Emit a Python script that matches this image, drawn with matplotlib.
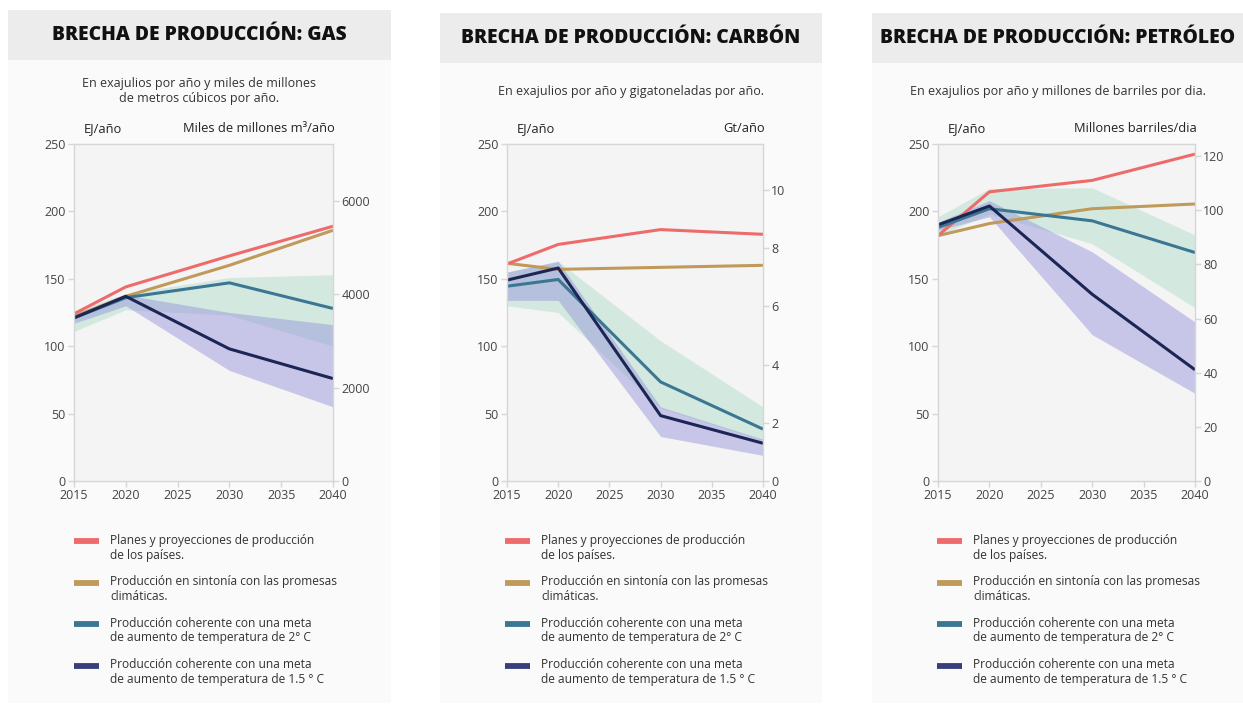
import matplotlib
matplotlib.use("Agg")
import matplotlib.pyplot as plt
from matplotlib.patches import Rectangle
from matplotlib.lines import Line2D

plt.rcParams['font.family'] = ['Open Sans', 'DejaVu Sans']

# ---- data (EJ per year) ----
years = [2015, 2020, 2030, 2040]

gas_planes = [124, 144, 167, 189]
gas_promesas = [122, 137, 160, 186]
gas_2c = [121, 136, 147, 128]
gas_15c = [121, 137, 98, 76]
gas_2c_low = [111, 127, 123, 100]
gas_2c_high = [126, 139, 151, 153]
gas_15c_low = [117, 130, 82, 55]
gas_15c_high = [124, 138, 125, 116]

coal_planes = [161, 175.5, 186.5, 183]
coal_promesas = [161.5, 157, 158.5, 160]
coal_2c = [144.5, 149.5, 73.5, 38.5]
coal_15c = [149, 158, 48.5, 28]
coal_2c_low = [130, 125, 54, 30]
coal_2c_high = [155, 163, 104, 55]
coal_15c_low = [134, 134, 33, 19]
coal_15c_high = [155, 163, 55, 31]

oil_planes = [182, 214.5, 223, 242.5]
oil_promesas = [182, 191, 202, 205.5]
oil_2c = [188, 202, 193, 169.5]
oil_15c = [190, 204, 138.5, 82.5]
oil_2c_low = [182, 198, 176, 128.5]
oil_2c_high = [196, 217, 217.5, 182.5]
oil_15c_low = [186, 196, 108.5, 65]
oil_15c_high = [192, 208, 170, 118]

titles = ["BRECHA DE PRODUCCIÓN: GAS", "BRECHA DE PRODUCCIÓN: CARBÓN",
          "BRECHA DE PRODUCCIÓN: PETRÓLEO"]
subtitles = ["En exajulios por año y miles de millones\nde metros cúbicos por año.",
             "En exajulios por año y gigatoneladas por año.",
             "En exajulios por año y millones de barriles por dia."]
right_units = ["Miles de millones m³/año", "Gt/año", "Millones barriles/dia"]
right_ticks = [[0, 2000, 4000, 6000], [0, 2, 4, 6, 8, 10], [0, 20, 40, 60, 80, 100, 120]]
# EJ equivalent of one right-axis unit
right_factor = [1 / 28.85, 21.6, 2.008]
left_ticks = [0, 50, 100, 150, 200, 250]
x_ticks = [2015, 2020, 2025, 2030, 2035, 2040]

legend_labels = ["Planes y proyecciones de producción\nde los países.",
                 "Producción en sintonía con las promesas\nclimáticas.",
                 "Producción coherente con una meta\nde aumento de temperatura de 2° C",
                 "Producción coherente con una meta\nde aumento de temperatura de 1.5 ° C"]

c_planes = "#ee6b6b"
c_prom = "#bf9a5a"
c_2c = "#3b7793"
c_15c = "#1c2655"
c_15c_leg = "#363f7c"
c_green = "#8fd3b6"
c_purple = "#8c88d8"

W, H = 1243, 706
fig = plt.figure(figsize=(W / 100, H / 100), dpi=100)
fig.patch.set_facecolor("white")


def fx(x):
    return x / W


def fy(y):
    return 1 - y / H


panels = [
    dict(band=(8, 391, 10, 60), ax=(74, 333), leg_x=74,
         data=(gas_planes, gas_promesas, gas_2c, gas_15c,
               gas_2c_low, gas_2c_high, gas_15c_low, gas_15c_high)),
    dict(band=(440, 822, 13, 63), ax=(507, 763), leg_x=505,
         data=(coal_planes, coal_promesas, coal_2c, coal_15c,
               coal_2c_low, coal_2c_high, coal_15c_low, coal_15c_high)),
    dict(band=(872, 1243, 13, 63), ax=(938, 1195), leg_x=937,
         data=(oil_planes, oil_promesas, oil_2c, oil_15c,
               oil_2c_low, oil_2c_high, oil_15c_low, oil_15c_high)),
]

ax_top, ax_bot = 144, 481
tick_col = "#444444"
spine_col = "#d6d6d6"

for i, p in enumerate(panels):
    x0, x1, y0, y1 = p["band"]
    # panel background and title band
    fig.add_artist(Rectangle((fx(x0), fy(703)), fx(x1 - x0), (703 - y1) / H,
                             transform=fig.transFigure, facecolor="#fafafa",
                             edgecolor="none", zorder=0))
    fig.add_artist(Rectangle((fx(x0), fy(y1)), fx(x1 - x0), (y1 - y0) / H,
                             transform=fig.transFigure, facecolor="#ececec",
                             edgecolor="none", zorder=0))
    fig.text(fx((x0 + x1) / 2), fy((y0 + y1) / 2), titles[i], ha="center",
             va="center", fontsize=13.9, fontweight="heavy", color="#111111")

    axl, axr = p["ax"]
    ax = fig.add_axes([fx(axl), fy(ax_bot), fx(axr - axl), (ax_bot - ax_top) / H])
    ax.set_facecolor("#f4f4f4")
    ax.set_zorder(2)

    planes, prom, l2, l15, g_lo, g_hi, p_lo, p_hi = p["data"]
    ax.fill_between(years, g_lo, g_hi, color=c_green, alpha=0.32, lw=0)
    ax.fill_between(years, p_lo, p_hi, color=c_purple, alpha=0.42, lw=0)
    ax.plot(years, prom, color=c_prom, lw=2.2, solid_capstyle="butt")
    ax.plot(years, planes, color=c_planes, lw=2.2, solid_capstyle="butt")
    ax.plot(years, l2, color=c_2c, lw=2.2, solid_capstyle="butt")
    ax.plot(years, l15, color=c_15c, lw=2.2, solid_capstyle="butt")

    ax.set_xlim(2015, 2040)
    ax.set_ylim(0, 250)
    ax.set_xticks(x_ticks)
    ax.set_yticks(left_ticks)
    for s in ax.spines.values():
        s.set_color(spine_col)
        s.set_linewidth(1.0)
    ax.tick_params(axis="both", colors=spine_col, labelcolor=tick_col,
                   labelsize=9, length=4, width=1, pad=2)

    ax2 = ax.twinx()
    ax2.set_ylim(0, 250 / right_factor[i])
    ax2.set_yticks(right_ticks[i])
    for s in ax2.spines.values():
        s.set_visible(False)
    ax2.tick_params(axis="y", colors=spine_col, labelcolor=tick_col,
                    labelsize=9, length=4, width=1, pad=2)

    # subtitle and unit labels
    cx = (x0 + x1) / 2
    fig.text(fx(cx), fy(91), subtitles[i], ha="center", va="center",
             fontsize=9, color="#333333", linespacing=1.25)
    fig.text(fx(axl + 10), fy(129), "EJ/año", ha="left", va="center",
             fontsize=9.3, color="#222222")
    fig.text(fx(axr + 2), fy(129), right_units[i], ha="right", va="center",
             fontsize=9.3, color="#222222")

    # legend
    lx = p["leg_x"]
    for k, (lab, col) in enumerate(zip(legend_labels,
                                       [c_planes, c_prom, c_2c, c_15c_leg])):
        ly = 541 + k * 41.5
        fig.add_artist(Line2D([fx(lx), fx(lx + 25)], [fy(ly), fy(ly)],
                              transform=fig.transFigure, color=col, lw=4.2,
                              solid_capstyle="butt"))
        fig.text(fx(lx + 36), fy(ly - 7), lab, ha="left", va="top",
                 fontsize=8.65, color="#333333", linespacing=1.15)

fig.savefig("out.png", dpi=100, facecolor="white")
